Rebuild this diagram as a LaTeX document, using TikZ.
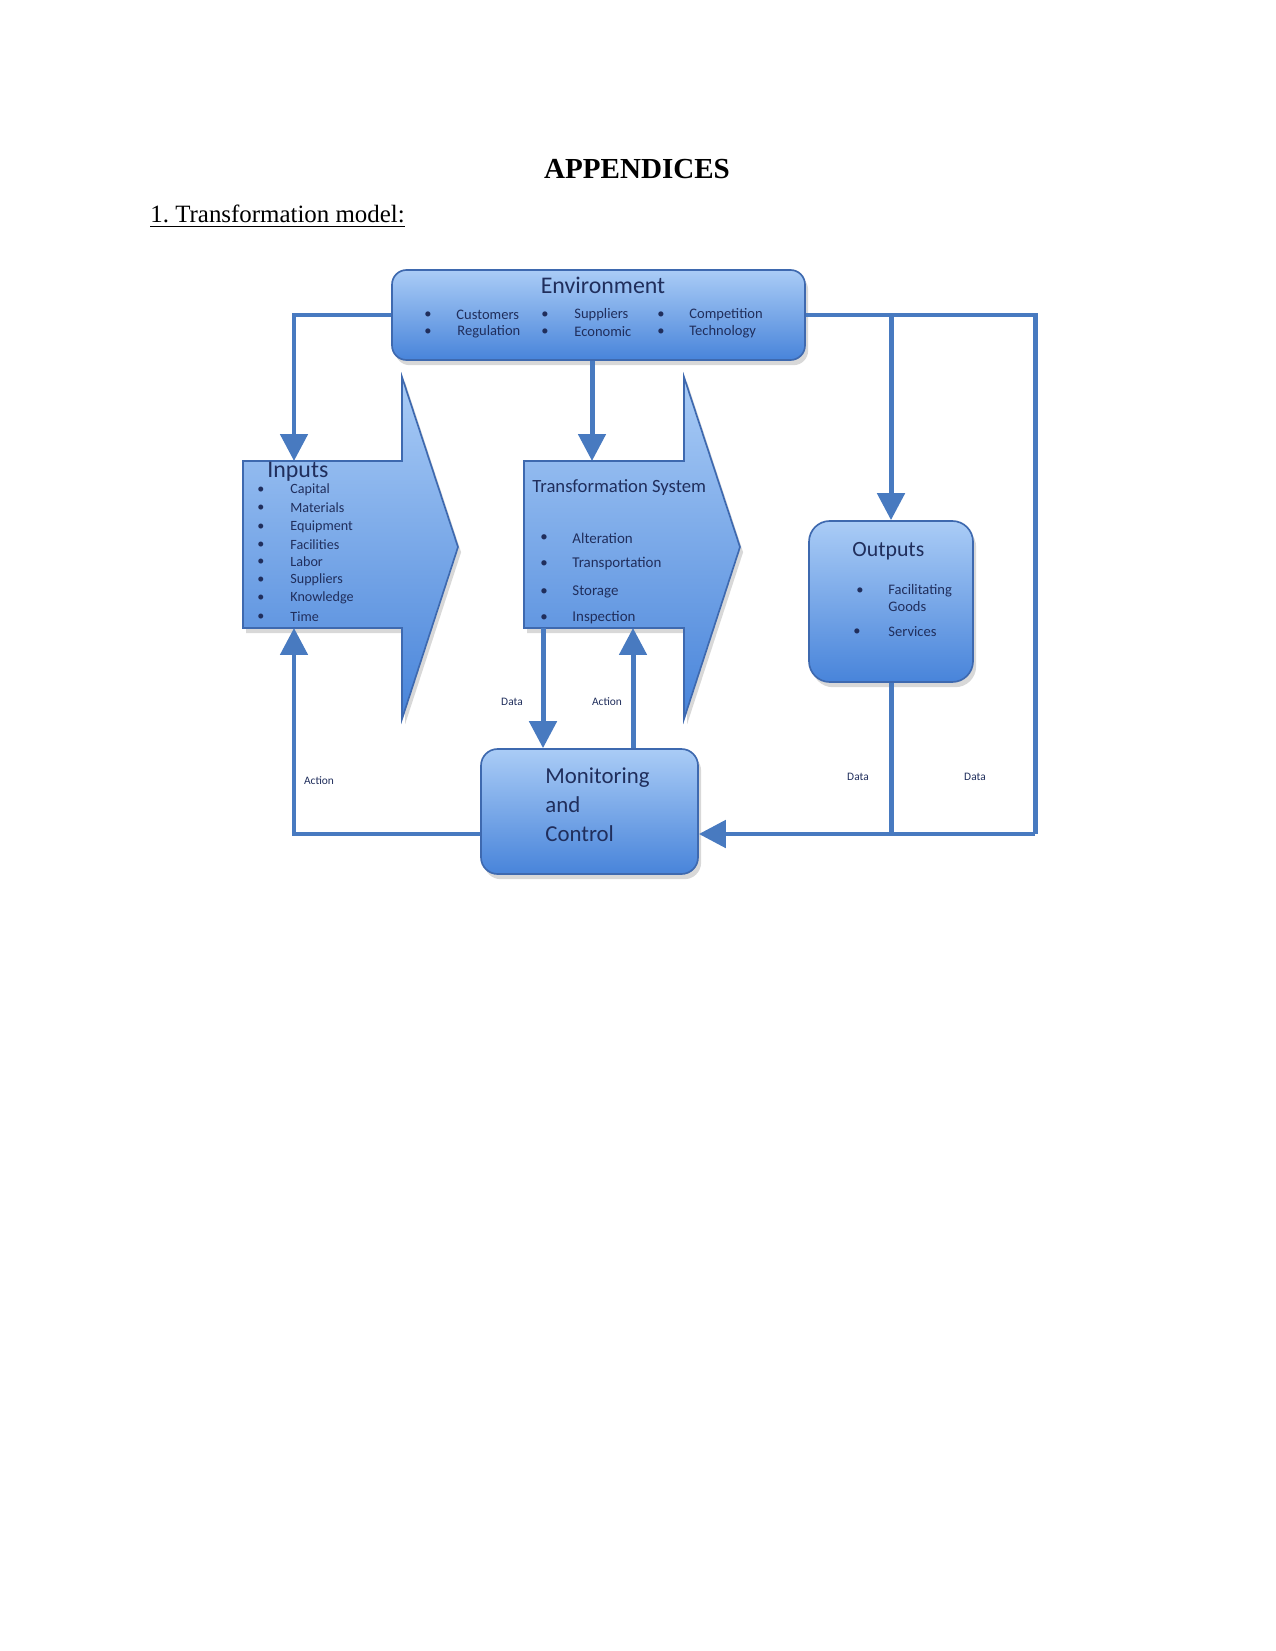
\documentclass[tikz,border=0pt]{standalone}
\usepackage{fontspec}
\setmainfont{Liberation Serif}
\newfontfamily\calfont{Carlito}
\usetikzlibrary{arrows.meta,shadows,calc}
\definecolor{lineblue}{RGB}{72,122,192}
\definecolor{edgeblue}{RGB}{62,105,175}
\definecolor{topblue}{RGB}{170,204,246}
\definecolor{botblue}{RGB}{72,132,218}
\definecolor{navy}{RGB}{32,46,92}
\frenchspacing
\begin{document}
\begin{tikzpicture}[x=0.4818pt, y=-0.4818pt,
  conn/.style={draw=lineblue, line width=2.4pt},
  arr/.style={conn, -{Triangle[length=13pt,width=13pt]}},
  boxshape/.style={draw=edgeblue, line width=0.8pt, top color=topblue, bottom color=botblue,
    drop shadow={opacity=0.3, shadow xshift=1.5pt, shadow yshift=-2.5pt}},
  txt/.style={text=navy, font=\calfont, inner sep=0},
  lbl/.style={text=navy, font=\calfont\fontsize{5.5}{6}\selectfont, inner sep=0}]
\useasboundingbox (0,0) rectangle (1275,1651);
\fill[white] (0,0) rectangle (1275,1651);

% page headings
\node[anchor=base, font=\bfseries\fontsize{14}{16}\selectfont, inner sep=0] (title) at (637,179) {APPENDICES};
\node[anchor=base west, font=\fontsize{12}{14}\selectfont, inner sep=0] (sub) at (150,223) {\underline{1. Transformation model:}};

% arrow-shaped blocks
\path[boxshape] (243,461) -- (402,461) -- (402,377) -- (458,547) -- (402,719) -- (402,628) -- (243,628) -- cycle;
\path[boxshape] (524,461) -- (684,461) -- (684,377) -- (740,547) -- (684,719) -- (684,628) -- (524,628) -- cycle;
\node[inner sep=0, minimum width={159*0.4818pt}, minimum height={167*0.4818pt}] (inputs) at (322.5,544.5) {};
\node[inner sep=0, minimum width={160*0.4818pt}, minimum height={167*0.4818pt}] (trans) at (604,544.5) {};

% rounded boxes
\node[boxshape, rounded corners=7pt, inner sep=0, minimum width={413*0.4818pt}, minimum height={90*0.4818pt}] (env) at (598.5,315) {};
\node[boxshape, rounded corners=10pt, inner sep=0, minimum width={164*0.4818pt}, minimum height={161*0.4818pt}] (outputs) at (891,601.5) {};
\node[boxshape, rounded corners=8pt, inner sep=0, minimum width={217*0.4818pt}, minimum height={125*0.4818pt}] (mon) at (589.5,811.5) {};

% connection points
\coordinate (inTop) at (294,461);
\coordinate (inBot) at (294,628);
\coordinate (tsTop) at (592,461);
\coordinate (tsDat) at (543,628);
\coordinate (tsAct) at (633,628);
\coordinate (rc) at (1035,315);
\coordinate (busR) at (1035,834);

% connectors
\draw[arr] (env.west) -| (inTop);
\draw[arr] (env.south -| tsTop) -- (tsTop);
\draw[arr] (tsDat) -- (tsDat |- mon.north);
\draw[arr] (tsAct |- mon.north) -- (tsAct);
\draw[conn] (env.east) -- (rc) -- (busR);
\draw[arr] (busR) -- (mon.east |- busR);
\draw[arr] (env.east -| outputs.north) -- (outputs.north);
\draw[conn] (outputs.south) -- (outputs.south |- busR);
\draw[arr] (mon.west |- busR) -| (inBot);

% Environment text
\node[txt, font=\calfont\fontsize{11.5}{13}\selectfont] (envt) at (603,285) {Environment};
\begin{scope}[every node/.style={txt, font=\calfont\fontsize{7}{8}\selectfont, anchor=west}]
\node (eb1) at (424,315) {\textbullet};
\node (eb2) at (424,332) {\textbullet};
\node (eb3) at (541,315) {\textbullet};
\node (eb4) at (541,332) {\textbullet};
\node (eb5) at (657,315) {\textbullet};
\node (eb6) at (657,332) {\textbullet};
\node (e1) at (456,315) {Customers};
\node (e2) at (457,332) {Regulation};
\node (e3) at (574,315) {Suppliers};
\node (e4) at (574,332) {Economic};
\node (e5) at (689,315) {Competition};
\node (e6) at (689,332) {Technology};
\end{scope}

% Inputs text
\node[txt, anchor=west, font=\calfont\fontsize{11.5}{12}\selectfont] (int) at (267,472) {Inputs};
\begin{scope}[every node/.style={txt, font=\calfont\fontsize{6.8}{8}\selectfont, anchor=west}]
\node (ib1) at (257,490) {\textbullet}; \node (i1) at (290,490) {Capital};
\node (ib2) at (257,508) {\textbullet}; \node (i2) at (290,508) {Materials};
\node (ib3) at (257,527) {\textbullet}; \node (i3) at (290,527) {Equipment};
\node (ib4) at (257,545) {\textbullet}; \node (i4) at (290,545) {Facilities};
\node (ib5) at (257,562) {\textbullet}; \node (i5) at (290,562) {Labor};
\node (ib6) at (257,580) {\textbullet}; \node (i6) at (290,580) {Suppliers};
\node (ib7) at (257,598) {\textbullet}; \node (i7) at (290,598) {Knowledge};
\node (ib8) at (257,617) {\textbullet}; \node (i8) at (290,617) {Time};
\end{scope}

% Transformation System text
\node[txt, anchor=west, font=\calfont\fontsize{9}{10}\selectfont] (tst) at (532,488) {Transformation System};
\begin{scope}[every node/.style={txt, font=\calfont\fontsize{7.2}{8}\selectfont, anchor=west}]
\node (tb1) at (540,538) {\textbullet}; \node (t1) at (572,538) {Alteration};
\node (tb2) at (540,564) {\textbullet}; \node (t2) at (572,564) {Transportation};
\node (tb3) at (540,592) {\textbullet}; \node (t3) at (572,592) {Storage};
\node (tb4) at (540,618) {\textbullet}; \node (t4) at (572,618) {Inspection};
\end{scope}

% Outputs text
\node[txt, anchor=west, font=\calfont\fontsize{10.5}{12}\selectfont] (outt) at (852,551) {Outputs};
\begin{scope}[every node/.style={txt, font=\calfont\fontsize{7}{8}\selectfont, anchor=west}]
\node (ob1) at (856,591) {\textbullet}; \node (o1) at (888,591) {Facilitating};
\node (o2) at (888,607) {Goods};
\node (ob2) at (853,632) {\textbullet}; \node (o3) at (888,632) {Services};
\end{scope}

% Monitoring text
\begin{scope}[every node/.style={txt, font=\calfont\fontsize{11}{13}\selectfont, anchor=west}]
\node (m1) at (545,778) {Monitoring};
\node (m2) at (545,805) {and};
\node (m3) at (545,834) {Control};
\end{scope}

% connector labels
\node[lbl] (l1) at (512,702) {Data};
\node[lbl] (l2) at (607,702) {Action};
\node[lbl] (l3) at (319,781) {Action};
\node[lbl] (l4) at (858,777) {Data};
\node[lbl] (l5) at (975,777) {Data};
\end{tikzpicture}
\end{document}
